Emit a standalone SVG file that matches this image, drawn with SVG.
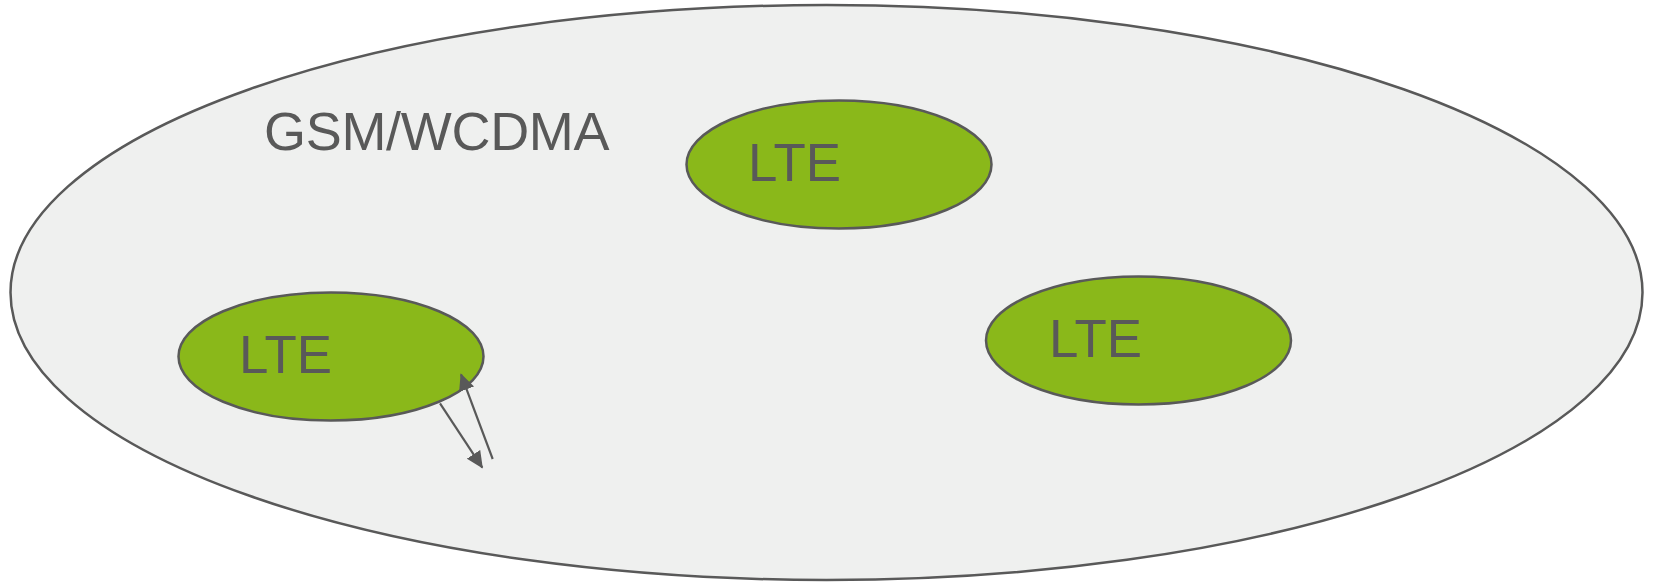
<svg xmlns="http://www.w3.org/2000/svg" width="1653" height="583" viewBox="0 0 1653 583">
  <style>
    .outer { fill: #eff0ef; stroke: #595959; stroke-width: 2.5; }
    .lte { fill: #8ab81a; stroke: #595959; stroke-width: 2.5; }
    .lbl { font-family: "Liberation Sans", Arial, sans-serif; font-size: 54px; fill: #595959; }
    .conn { stroke: #595959; stroke-width: 2.2; fill: none; marker-end: url(#arr); }
  </style>
  <defs>
    <marker id="arr" markerUnits="userSpaceOnUse" markerWidth="18" markerHeight="16" viewBox="0 0 18 16" refX="16" refY="8" orient="auto">
      <path d="M0,0 L17,8 L0,16 Z" fill="#595959"/>
    </marker>
  </defs>
  <rect width="1653" height="583" fill="#ffffff"/>
  <g id="gsm-wcdma">
    <ellipse class="outer" cx="826.5" cy="292.5" rx="816" ry="287.5"/>
    <text class="lbl" x="264" y="150" letter-spacing="-0.3">GSM/WCDMA</text>
  </g>
  <g id="lte-top">
    <ellipse class="lte" cx="839" cy="164.5" rx="152.5" ry="64"/>
    <text class="lbl" x="748" y="181" textLength="93" lengthAdjust="spacingAndGlyphs">LTE</text>
  </g>
  <g id="lte-left">
    <ellipse class="lte" cx="331" cy="356.5" rx="152.5" ry="64"/>
    <text class="lbl" x="239" y="373" textLength="93" lengthAdjust="spacingAndGlyphs">LTE</text>
  </g>
  <g id="lte-right">
    <ellipse class="lte" cx="1138.5" cy="340.5" rx="152.5" ry="64"/>
    <text class="lbl" x="1049" y="357" textLength="93" lengthAdjust="spacingAndGlyphs">LTE</text>
  </g>
  <g id="connectors">
    <line class="conn" x1="440" y1="403.3" x2="482.3" y2="467.7"/>
    <line class="conn" x1="492.7" y1="459" x2="461" y2="374.3"/>
  </g>
</svg>
